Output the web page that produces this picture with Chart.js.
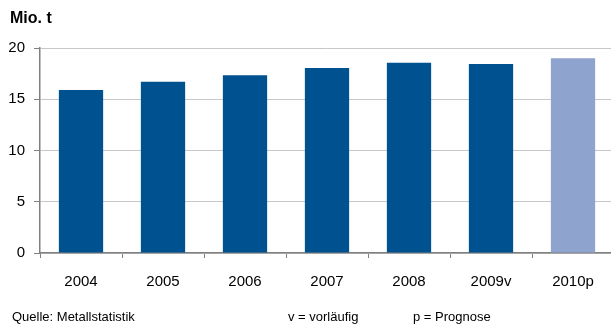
<!DOCTYPE html>
<html>
<head>
<meta charset="utf-8">
<script src="https://cdn.jsdelivr.net/npm/chart.js@4"></script>
<style>
  html, body { margin: 0; padding: 0; background: #fff; overflow: hidden; }
  body { width: 611px; height: 324px; position: relative; font-family: "Liberation Sans", Arial, sans-serif; }
  #wrap { position: absolute; left: 0; top: 0; width: 614px; height: 324px; }
  .txt { position: absolute; color: #000; white-space: nowrap; }
  #title { left: 10px; top: 9px; font-size: 16px; font-weight: bold; }
  .foot { top: 309px; font-size: 13px; }
</style>
</head>
<body>
<div id="wrap"><canvas id="prodChart"></canvas></div>
<div class="txt" id="title">Mio. t</div>
<div class="txt foot" style="left: 12px;">Quelle: Metallstatistik</div>
<div class="txt foot" style="left: 288px;">v = vorläufig</div>
<div class="txt foot" style="left: 413px;">p = Prognose</div>
<script>
// Data
var years = ['2004', '2005', '2006', '2007', '2008', '2009v', '2010p'];
var tonnes = [15.9, 16.7, 17.35, 18.05, 18.55, 18.45, 19.0];
var yTicks = [0, 5, 10, 15, 20];

var darkBlue = '#00518F';
var lightBlue = '#8FA3CF';

// last bar is a forecast, drawn lighter
var barColors = years.map(function (y) {
    return y.slice(-1) === 'p' ? lightBlue : darkBlue;
});

Chart.defaults.font.family = '"Liberation Sans", Arial, sans-serif';
Chart.defaults.color = '#000';

var ctx = document.getElementById('prodChart').getContext('2d');
var prodChart = new Chart(ctx, {
    type: 'bar',
    data: {
        labels: years,
        datasets: [{
            data: tonnes,
            backgroundColor: barColors,
            borderWidth: 0,
            barPercentage: 0.54,
            categoryPercentage: 1
        }]
    },
    options: {
        responsive: true,
        maintainAspectRatio: false,
        animation: false,
        layout: { padding: { top: 48, left: 0, right: 0, bottom: 0 } },
        plugins: {
            legend: { display: false },
            tooltip: { enabled: false }
        },
        scales: {
            x: {
                grid: {
                    offset: true,
                    drawOnChartArea: false,
                    tickLength: 5,
                    tickColor: '#808080'
                },
                border: { color: '#808080', width: 1.5 },
                ticks: { font: { size: 15 }, padding: 15, maxRotation: 0 },
                afterFit: function (s) { s.height = 71; }
            },
            y: {
                min: 0,
                max: 20,
                afterBuildTicks: function (s) {
                    s.ticks = yTicks.map(function (v) { return { value: v }; });
                },
                grid: {
                    color: '#c8c8c8',
                    lineWidth: 1,
                    tickLength: 6,
                    tickColor: '#808080'
                },
                border: { color: '#808080', width: 1.5 },
                ticks: { font: { size: 15 }, padding: 9 },
                afterFit: function (s) { s.width = 40; }
            }
        }
    }
});
</script>
</body>
</html>
